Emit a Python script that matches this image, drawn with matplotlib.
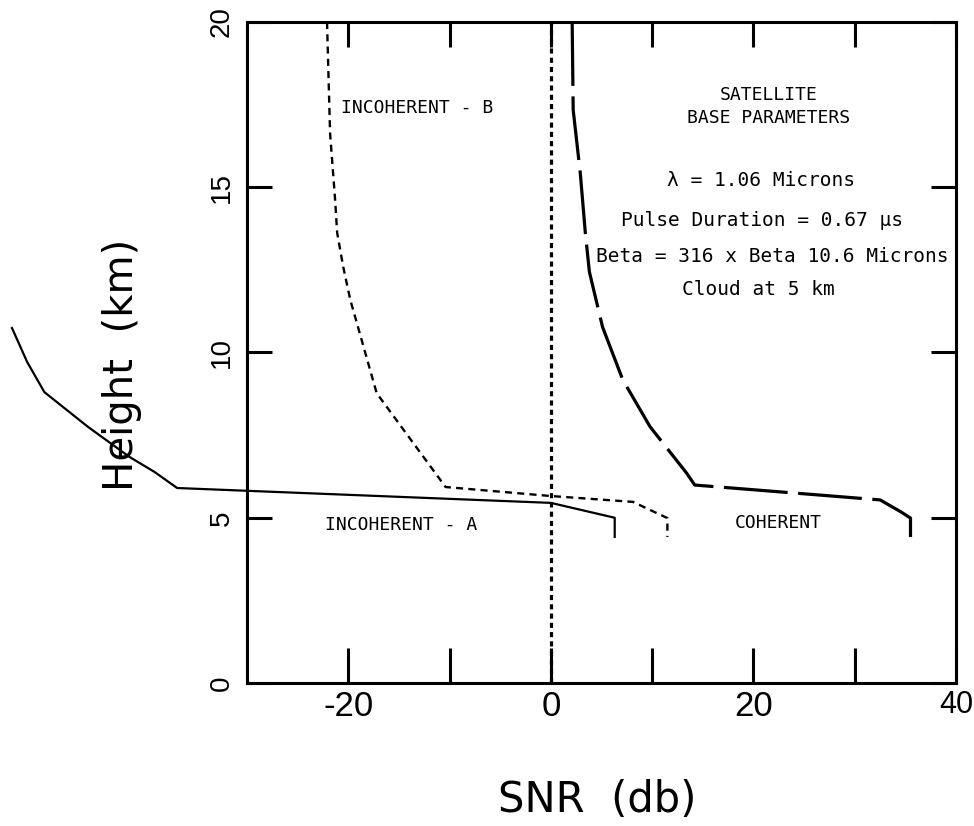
import matplotlib
matplotlib.use("Agg")
import matplotlib.pyplot as plt

# incoherent A (solid), extends past the left edge of the axes
inc_a_snr = [-53.2, -51.7, -50.0, -45.7, -41.6, -39.1, -36.9, 0.0, 6.3, 6.3]
inc_a_h = [10.74, 9.71, 8.80, 7.75, 6.84, 6.38, 5.90, 5.45, 5.00, 4.42]

# incoherent B (short dashes)
inc_b_snr = [-22.1, -21.8, -21.3, -21.1, -20.5, -19.8, -17.2, -10.4, -0.1, 8.1, 11.5, 11.5]
inc_b_h = [20.0, 16.64, 14.61, 13.62, 12.59, 11.59, 8.77, 5.93, 5.66, 5.48, 4.99, 4.42]

# coherent (long dashes)
coh_snr = [2.1, 2.2, 2.9, 3.4, 3.8, 5.1, 7.1, 9.8, 13.4, 14.2, 32.5, 34.6, 35.5, 35.5]
coh_h = [20.0, 17.34, 15.43, 13.62, 12.44, 10.77, 9.17, 7.75, 6.35, 5.99, 5.54, 5.17, 4.99, 4.42]

# zero-dB reference line
zero_snr = [0, 0]
zero_h = [0, 20]

xticks = [-20, -10, 0, 10, 20, 30, 40]
xticklabels = ['-20', '', '0', '', '20', '', '40']
yticks = [0, 5, 10, 15, 20]
yticklabels = ['0', '5', '10', '15', '20']

fig = plt.figure(figsize=(9.74, 8.26), dpi=100)
ax = fig.add_axes([0.2536, 0.1731, 0.728, 0.8003])
ax.set_xlim(-30, 40)
ax.set_ylim(0, 20)

ax.plot(inc_a_snr, inc_a_h, color='black', lw=1.6, clip_on=False)
ax.plot(inc_b_snr, inc_b_h, color='black', lw=1.7, linestyle=(0, (3.0, 2.2)))
ax.plot(coh_snr, coh_h, color='black', lw=2.3, linestyle=(0, (20, 3.3)))
ax.plot(zero_snr, zero_h, color='black', lw=2.3, linestyle=(0, (1.6, 1.3)))

for s in ax.spines.values():
    s.set_linewidth(2.2)

ax.set_xticks(xticks)
ax.set_xticklabels(xticklabels)
ax.set_yticks(yticks)
ax.set_yticklabels(yticklabels, rotation=90, va='center')
ax.tick_params(direction='in', top=True, right=True, length=18, width=2.2)
ax.tick_params(axis='x', pad=5)
ax.tick_params(axis='y', pad=9)
for t in ax.xaxis.get_major_ticks():
    t.tick1line.set_markersize(25)

narrow = ['Liberation Sans Narrow', 'Liberation Sans', 'DejaVu Sans']
for lab in ax.get_xticklabels():
    lab.set_family(narrow)
    lab.set_fontsize(25)
ax.get_xticklabels()[-1].set_fontsize(22)
for lab in ax.get_yticklabels():
    lab.set_family(narrow)
    lab.set_fontsize(20)

ax.set_xlabel('SNR  (db)', fontsize=30)
ax.xaxis.set_label_coords(0.494, -0.177)
ax.xaxis.label.set_va('center')
ax.set_ylabel('Height  (km)', fontsize=29)
ax.yaxis.set_label_coords(-0.176, 0.481)
ax.yaxis.label.set_va('center')

mono = dict(family='DejaVu Sans Mono', ha='center', va='center')
ax.text(-13.2, 17.4, 'INCOHERENT - B', fontsize=13, **mono)
ax.text(-14.8, 4.77, 'INCOHERENT - A', fontsize=13, **mono)
ax.text(22.4, 4.83, 'COHERENT', fontsize=13, **mono)
ax.text(21.5, 17.8, 'SATELLITE', fontsize=13, **mono)
ax.text(21.5, 17.1, 'BASE PARAMETERS', fontsize=13, **mono)
ax.text(20.7, 15.2, 'λ = 1.06 Microns', fontsize=14, **mono)
ax.text(20.8, 14.0, 'Pulse Duration = 0.67 µs', fontsize=14, **mono)
ax.text(21.9, 12.9, 'Beta = 316 x Beta 10.6 Microns', fontsize=14, **mono)
ax.text(20.5, 11.9, 'Cloud at 5 km', fontsize=14, **mono)

fig.savefig('out.png', dpi=100)
